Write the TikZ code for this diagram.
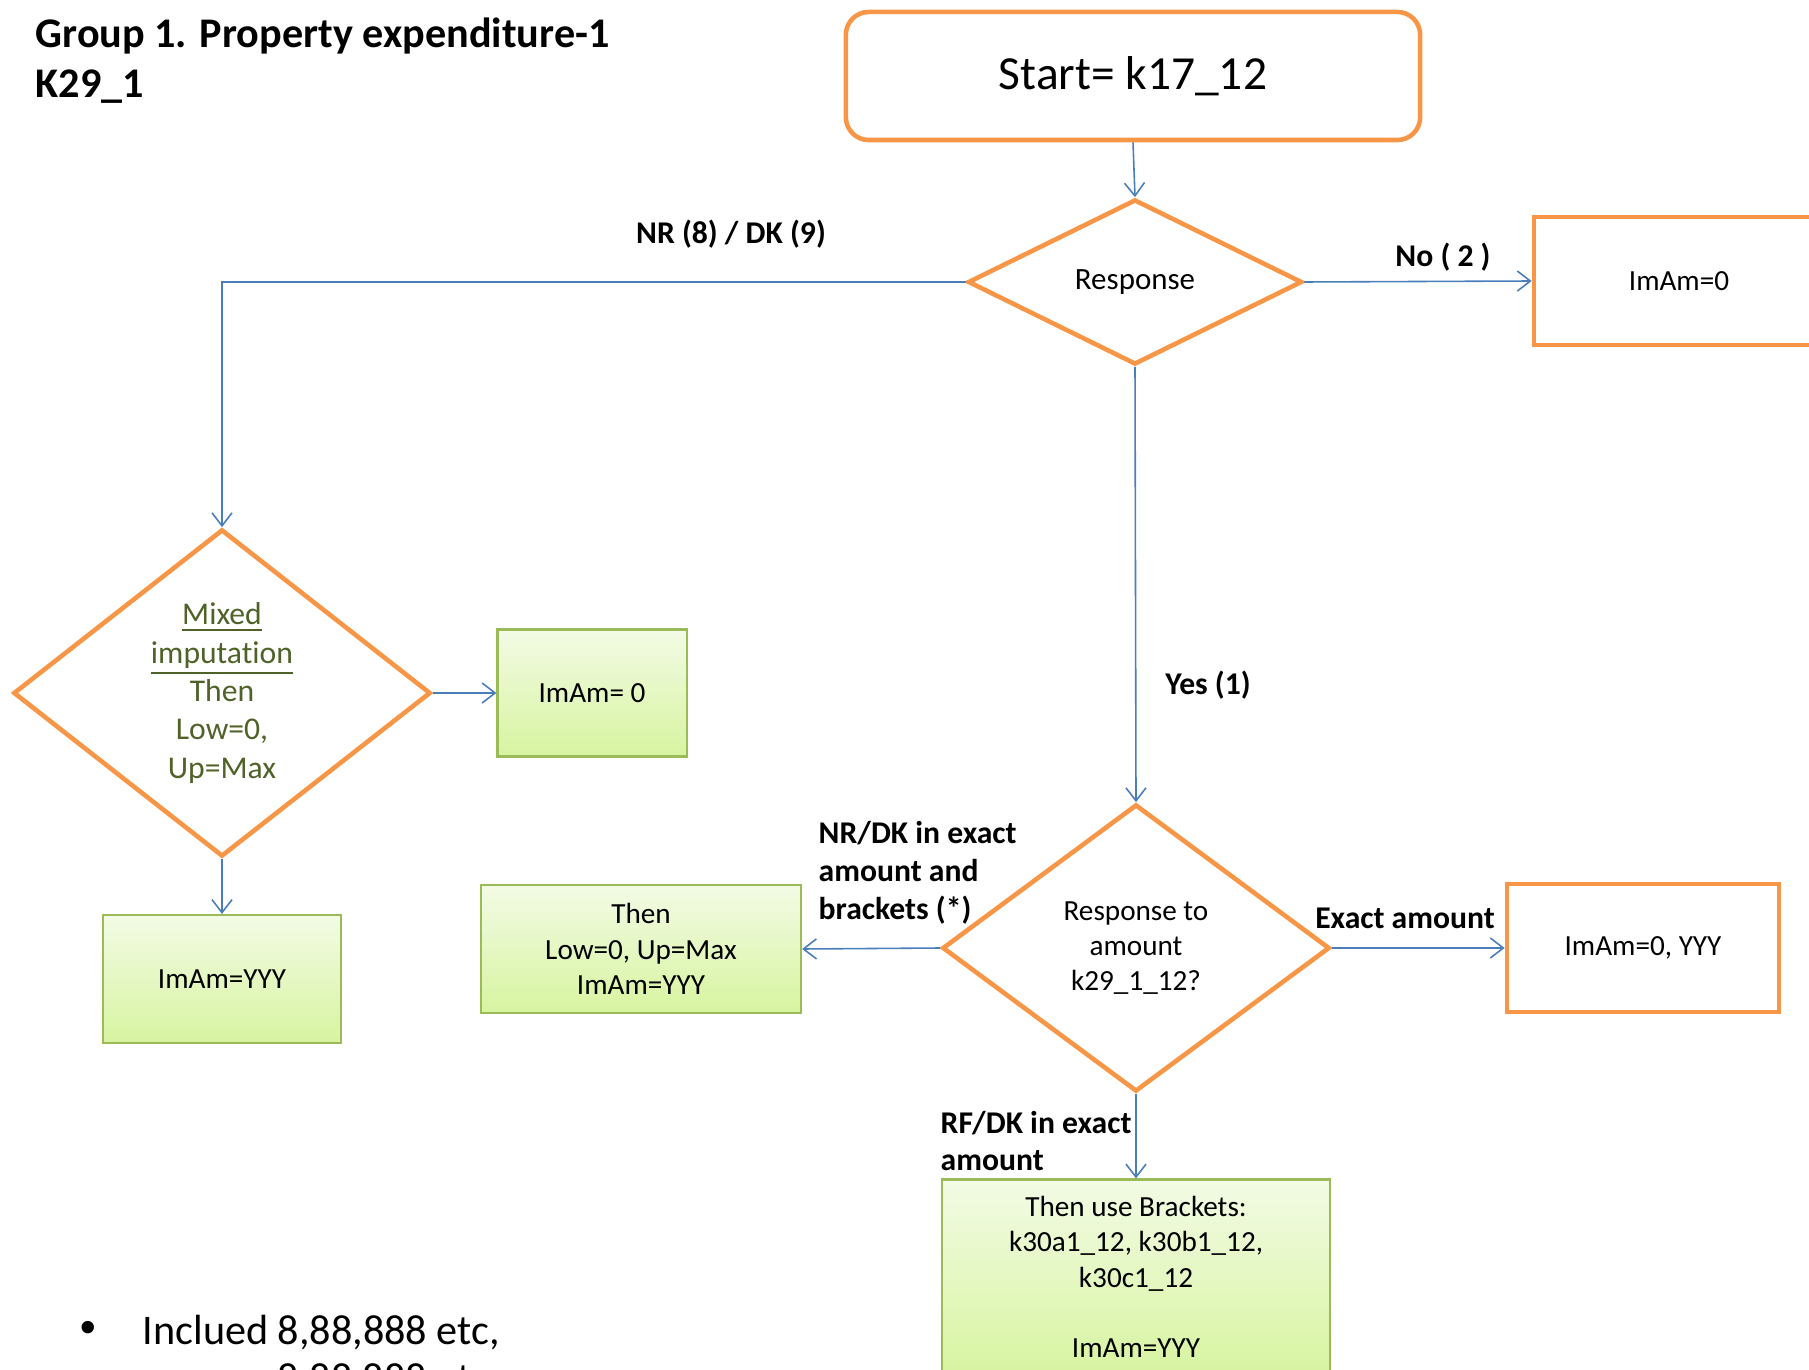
\documentclass[tikz,border=0pt]{standalone}
\usepackage{fontspec}
\setmainfont{Carlito}[Ligatures=NoCommon]
\usetikzlibrary{shapes.geometric,arrows.meta}
\definecolor{orng}{HTML}{F79646}
\definecolor{lnblue}{HTML}{4A7EBB}
\definecolor{grnline}{HTML}{9BBB59}
\definecolor{grntop}{HTML}{F3FBE5}
\definecolor{grnbot}{HTML}{D7F4A0}
\definecolor{olive}{HTML}{4F6228}
\begin{document}
\begin{tikzpicture}[x=0.01cm,y=-0.01cm,
        txt/.style={font=\fontsize{8.3}{10}\selectfont,align=center,inner sep=0pt},
        lbl/.style={font=\fontsize{9}{10.8}\selectfont\bfseries,align=left,inner sep=0pt},
        obox/.style={rectangle,draw=orng,line width=1.3pt,txt},
        gbox/.style={rectangle,draw=grnline,line width=0.6pt,top color=grntop,bottom color=grnbot,txt},
        dia/.style={diamond,draw=orng,line width=1.3pt,txt},
        conn/.style={draw=lnblue,line width=0.45pt,-{Straight Barb[length=3.7pt,width=5.7pt]}}]
        \clip (0,0) rectangle (1809,1370);
        \node [anchor=base west,inner sep=0pt,font=\fontsize{12}{14}\selectfont\bfseries] (title) at (35,48) {Group 1. Property expenditure-1};
        \node [anchor=base west,inner sep=0pt,font=\fontsize{12}{14}\selectfont\bfseries] (title2) at (35,98) {K29\_1};
        \node [obox,rounded corners=6.5pt,minimum width=5.74cm,minimum height=1.28cm,font=\fontsize{13.5}{16}\selectfont] (start) at (1133,76) {Start= k17\_12};
        \node [dia,minimum width=3.34cm,minimum height=1.65cm,font=\fontsize{8.8}{10}\selectfont] (resp) at (1135,282) {Response};
        \node [obox,minimum width=2.90cm,minimum height=1.28cm] (zero) at (1679,281) {ImAm=0};
        \node [dia,shape aspect=1.3,minimum width=4.17cm,minimum height=3.27cm,font=\fontsize{9}{10.9}\selectfont,text=olive] (mixed) at (222,693) {\underline{Mixed}\\\underline{imputation}\\Then\\Low=0,\\Up=Max};
        \node [gbox,minimum width=1.89cm,minimum height=1.27cm] (zeroB) at (592,693) {ImAm= 0};
        \node [gbox,minimum width=2.38cm,minimum height=1.28cm] (yyy) at (222,979) {ImAm=YYY};
        \node [dia,minimum width=3.87cm,minimum height=2.87cm] (amt) at (1136,948) {Response to\\amount\\k29\_1\_12?};
        \node [obox,minimum width=2.72cm,minimum height=1.28cm] (exact) at (1643,948) {ImAm=0, YYY};
        \node [gbox,minimum width=3.20cm,minimum height=1.28cm] (bounds) at (641,949) {Then\\Low=0, Up=Max\\ImAm=YYY};
        \node [gbox,minimum width=3.87cm,minimum height=1.95cm] (brk) at (1136,1277) {Then use Brackets:\\k30a1\_12, k30b1\_12,\\k30c1\_12\\[10pt]ImAm=YYY};
        \node [lbl] (lnr) at (731,234) {NR (8) / DK (9)};
        \node [lbl] (lno) at (1443,257) {No ( 2 )};
        \node [lbl] (lyes) at (1208,685) {Yes (1)};
        \node [lbl,anchor=west] (lnrdk) at (818,873) {NR/DK in exact\\amount and\\brackets (*)};
        \node [lbl] (lexact) at (1405,918) {Exact amount};
        \node [lbl,anchor=west] (lrfdk) at (940,1141) {RF/DK in exact\\amount};
        \node [inner sep=0pt,font=\fontsize{10}{12}\selectfont] (dot) at (88,1329) {•};
        \node [anchor=base west,inner sep=0pt,font=\fontsize{12}{14}\selectfont] (note) at (142,1344) {Inclued 8,88,888 etc,};
        \node [anchor=base west,inner sep=0pt,font=\fontsize{12}{14}\selectfont] (note2) at (277,1392) {8,88,888 etc};
        % connectors
        \draw [conn] (start.south) -- (resp.north);
        \draw [conn] (resp.east) -- (zero.west);
        \draw [conn] (resp.west) -| (mixed.north);
        \draw [conn] (mixed.east) -- (zeroB.west);
        \draw [conn] (mixed.south) -- (yyy.north);
        \draw [conn] (resp.south) -- (amt.north);
        \draw [conn] (amt.east) -- (exact.west);
        \draw [conn] (amt.west) -- (bounds.east);
        \draw [conn] (amt.south) -- (brk.north);
\end{tikzpicture}
\end{document}
